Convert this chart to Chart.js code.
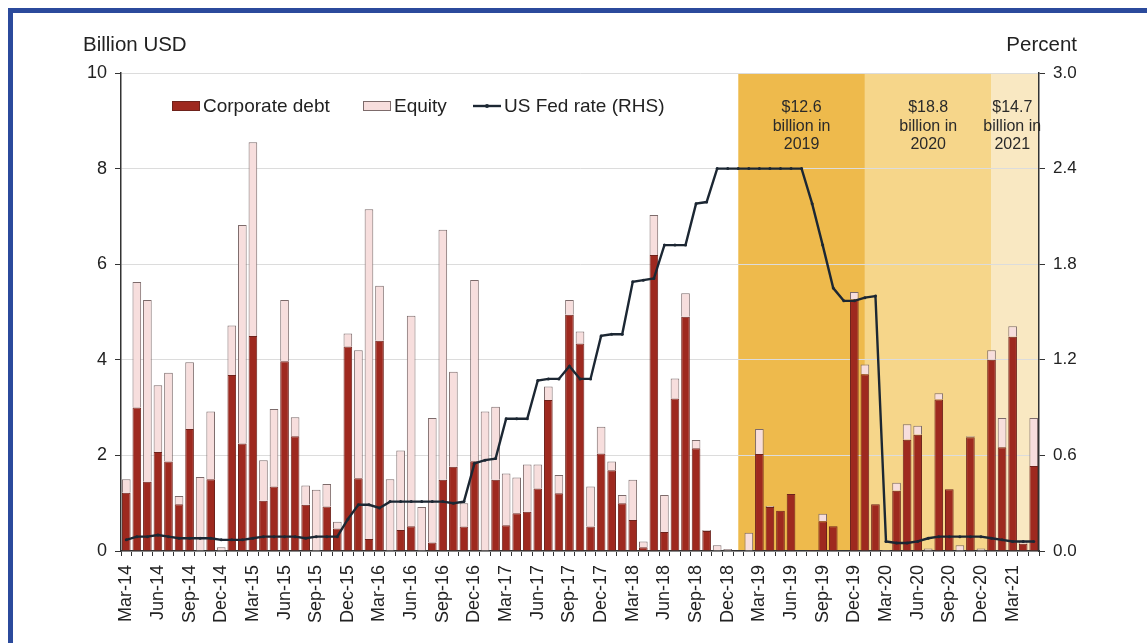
<!DOCTYPE html>
<html>
<head>
<meta charset="utf-8">
<script src="https://cdn.jsdelivr.net/npm/chart.js@4.4.1/dist/chart.umd.min.js"></script>
<style>
  html, body { margin: 0; padding: 0; background: #ffffff; overflow: hidden; }
  #wrap { position: relative; width: 1147px; height: 643px; }
  #frame {
    position: absolute; left: 8px; top: 8px; width: 1160px; height: 660px;
    border-top: 5px solid #2b4a9c; border-left: 5px solid #2b4a9c;
    pointer-events: none; box-sizing: border-box;
  }
  canvas { position: absolute; left: 0; top: 0; }
</style>
</head>
<body>
<div id="wrap">
  <canvas id="chart" width="1147" height="643"></canvas>
  <div id="frame"></div>
</div>
<script>
// Monthly categories, Mar-2014 .. May-2021
const months = [
  'Mar-14','Apr-14','May-14','Jun-14','Jul-14','Aug-14','Sep-14','Oct-14','Nov-14','Dec-14',
  'Jan-15','Feb-15','Mar-15','Apr-15','May-15','Jun-15','Jul-15','Aug-15','Sep-15','Oct-15','Nov-15','Dec-15',
  'Jan-16','Feb-16','Mar-16','Apr-16','May-16','Jun-16','Jul-16','Aug-16','Sep-16','Oct-16','Nov-16','Dec-16',
  'Jan-17','Feb-17','Mar-17','Apr-17','May-17','Jun-17','Jul-17','Aug-17','Sep-17','Oct-17','Nov-17','Dec-17',
  'Jan-18','Feb-18','Mar-18','Apr-18','May-18','Jun-18','Jul-18','Aug-18','Sep-18','Oct-18','Nov-18','Dec-18',
  'Jan-19','Feb-19','Mar-19','Apr-19','May-19','Jun-19','Jul-19','Aug-19','Sep-19','Oct-19','Nov-19','Dec-19',
  'Jan-20','Feb-20','Mar-20','Apr-20','May-20','Jun-20','Jul-20','Aug-20','Sep-20','Oct-20','Nov-20','Dec-20',
  'Jan-21','Feb-21','Mar-21','Apr-21','May-21'
];

// Labels shown on the category axis (quarterly)
const tickLabels = [
  'Mar-14','Jun-14','Sep-14','Dec-14','Mar-15','Jun-15','Sep-15','Dec-15',
  'Mar-16','Jun-16','Sep-16','Dec-16','Mar-17','Jun-17','Sep-17','Dec-17',
  'Mar-18','Jun-18','Sep-18','Dec-18','Mar-19','Jun-19','Sep-19','Dec-19',
  'Mar-20','Jun-20','Sep-20','Dec-20','Mar-21'
];

// Corporate debt issuance, billion USD
const corporateDebt = [
  1.22, 3.00, 1.45, 2.07, 1.87, 0.98, 2.55, 0.00, 1.50, 0.00,
  3.68, 2.25, 4.50, 1.05, 1.35, 3.97, 2.40, 0.97, 0.00, 0.93, 0.47, 4.28,
  1.52, 0.25, 4.40, 0.00, 0.44, 0.52, 0.00, 0.18, 1.49, 1.76, 0.51, 1.88,
  0.00, 1.49, 0.54, 0.79, 0.82, 1.31, 3.16, 1.21, 4.94, 4.34, 0.51, 2.04,
  1.69, 1.00, 0.65, 0.08, 6.19, 0.40, 3.19, 4.90, 2.15, 0.42, 0.00, 0.00,
  0.00, 0.00, 2.03, 0.92, 0.84, 1.19, 0.00, 0.02, 0.62, 0.52, 0.00, 5.26,
  3.70, 0.98, 0.00, 1.26, 2.33, 2.43, 0.00, 3.17, 1.29, 0.00, 2.38, 0.00,
  4.00, 2.17, 4.48, 0.15, 1.78
];

// Equity issuance, billion USD
const equity = [
  0.28, 2.63, 3.80, 1.40, 1.86, 0.17, 1.40, 1.55, 1.42, 0.08,
  1.04, 4.57, 4.05, 0.85, 1.62, 1.28, 0.40, 0.40, 1.28, 0.47, 0.14, 0.27,
  2.68, 6.90, 1.15, 1.50, 1.66, 4.40, 0.92, 2.60, 5.23, 1.99, 0.49, 3.79,
  2.92, 1.53, 1.08, 0.75, 0.99, 0.50, 0.28, 0.38, 0.31, 0.25, 0.84, 0.56,
  0.18, 0.17, 0.84, 0.12, 0.84, 0.77, 0.42, 0.49, 0.17, 0.02, 0.12, 0.04,
  0.00, 0.38, 0.52, 0.02, 0.00, 0.00, 0.00, 0.00, 0.16, 0.00, 0.00, 0.16,
  0.20, 0.00, 0.02, 0.17, 0.32, 0.19, 0.05, 0.13, 0.00, 0.12, 0.02, 0.05,
  0.20, 0.61, 0.22, 0.05, 1.00
];

// US Fed rate, percent (right-hand axis)
const fedRate = [
  0.07, 0.09, 0.09, 0.10, 0.09, 0.08, 0.08, 0.08, 0.08, 0.07,
  0.07, 0.07, 0.08, 0.09, 0.09, 0.09, 0.09, 0.08, 0.09, 0.09, 0.09, 0.20,
  0.29, 0.29, 0.27, 0.31, 0.31, 0.31, 0.31, 0.31, 0.31, 0.30, 0.31, 0.55,
  0.57, 0.58, 0.83, 0.83, 0.83, 1.07, 1.08, 1.08, 1.16, 1.08, 1.08, 1.35,
  1.36, 1.36, 1.69, 1.70, 1.71, 1.92, 1.92, 1.92, 2.18, 2.19, 2.40, 2.40,
  2.40, 2.40, 2.40, 2.40, 2.40, 2.40, 2.40, 2.18, 1.92, 1.65, 1.57, 1.57,
  1.59, 1.60, 0.06, 0.05, 0.05, 0.06, 0.08, 0.09, 0.09, 0.09, 0.09, 0.09,
  0.08, 0.07, 0.06, 0.06, 0.06
];

// Shaded calendar years with their annual totals
const bandStarts = ['Jan-19', 'Jan-20', 'Jan-21'];
const bandEnds   = ['Jan-20', 'Jan-21', null];
const bandNotes  = [
  ['$12.6', 'billion in', '2019'],
  ['$18.8', 'billion in', '2020'],
  ['$14.7', 'billion in', '2021']
];
const bandFills = ['#eeba4c', '#f6d68a', '#f9e8c2'];

const FONT = "'Liberation Sans', Arial, Helvetica, sans-serif";
const INK = '#222222';
const DEBT_FILL = '#9e291f', DEBT_EDGE = '#6e221b';
const EQ_FILL = '#f7dedd', EQ_EDGE = '#7d6b6b';
const LINE_COL = '#1c2733';

Chart.defaults.font.family = FONT;
Chart.defaults.color = INK;

// Year bands behind the grid, and their annotations on top
const yearBands = {
  id: 'yearBands',
  beforeDraw(chart) {
    const { ctx, chartArea: a, scales: { x } } = chart;
    ctx.save();
    bandStarts.forEach((s, i) => {
      const x0 = x.getPixelForValue(months.indexOf(s));
      const x1 = bandEnds[i] ? x.getPixelForValue(months.indexOf(bandEnds[i])) : a.right;
      ctx.fillStyle = bandFills[i];
      ctx.fillRect(x0, a.top, x1 - x0, a.bottom - a.top);
    });
    ctx.restore();
  },
  afterDraw(chart) {
    const { ctx, chartArea: a, scales: { x } } = chart;
    ctx.save();
    ctx.font = '16px ' + FONT;
    ctx.fillStyle = '#2a2a2a';
    ctx.textAlign = 'center';
    ctx.textBaseline = 'middle';
    bandStarts.forEach((s, i) => {
      const x0 = x.getPixelForValue(months.indexOf(s));
      const x1 = bandEnds[i] ? x.getPixelForValue(months.indexOf(bandEnds[i])) : a.right;
      const cx = (x0 + x1) / 2 - (bandEnds[i] ? 0 : 3);
      bandNotes[i].forEach((t, k) => ctx.fillText(t, cx, a.top + 35 + k * 18.5));
    });
    ctx.restore();
  }
};

// Axis unit captions and the in-plot legend
const captions = {
  id: 'captions',
  afterDraw(chart) {
    const { ctx, chartArea: a } = chart;
    ctx.save();
    ctx.fillStyle = INK;
    ctx.textBaseline = 'alphabetic';
    ctx.font = '20.5px ' + FONT;
    ctx.textAlign = 'left';
    ctx.fillText('Billion USD', 83, 51);
    ctx.textAlign = 'right';
    ctx.fillText('Percent', 1077, 51);

    // legend, built from the datasets
    const ds = chart.data.datasets;
    const y = a.top + 33;
    ctx.font = '19px ' + FONT;
    ctx.textAlign = 'left';
    ctx.textBaseline = 'middle';
    const starts = [172, 363, 473];
    ds.forEach((d, i) => {
      const sx = starts[i];
      if (d.type === 'line') {
        ctx.strokeStyle = d.borderColor;
        ctx.lineWidth = 2.4;
        ctx.beginPath(); ctx.moveTo(sx, y); ctx.lineTo(sx + 28, y); ctx.stroke();
        ctx.fillStyle = d.borderColor;
        ctx.beginPath(); ctx.arc(sx + 14, y, 2, 0, Math.PI * 2); ctx.fill();
      } else {
        ctx.fillStyle = d.backgroundColor;
        ctx.fillRect(sx, y - 5, 28, 10);
        ctx.strokeStyle = d.borderColor;
        ctx.lineWidth = 1;
        ctx.strokeRect(sx + 0.5, y - 4.5, 27, 9);
      }
      ctx.fillStyle = INK;
      ctx.fillText(d.label, sx + 31, y + 1);
    });
    ctx.restore();
  }
};

new Chart(document.getElementById('chart'), {
  data: {
    labels: months,
    datasets: [
      {
        type: 'bar', label: 'Corporate debt', data: corporateDebt,
        backgroundColor: DEBT_FILL, borderColor: DEBT_EDGE, borderWidth: 1,
        yAxisID: 'y', stack: 'issuance', order: 2,
        categoryPercentage: 1.0, barPercentage: 0.82
      },
      {
        type: 'bar', label: 'Equity', data: equity,
        backgroundColor: EQ_FILL, borderColor: EQ_EDGE, borderWidth: 1,
        yAxisID: 'y', stack: 'issuance', order: 2,
        categoryPercentage: 1.0, barPercentage: 0.82
      },
      {
        type: 'line', label: 'US Fed rate (RHS)', data: fedRate,
        borderColor: LINE_COL, backgroundColor: LINE_COL, borderWidth: 2.4,
        pointRadius: 1.5, pointBackgroundColor: LINE_COL, pointBorderWidth: 0,
        tension: 0, yAxisID: 'y1', order: 0
      }
    ]
  },
  options: {
    responsive: false,
    animation: false,
    devicePixelRatio: 1,
    layout: { padding: { top: 73, left: 0, right: 0, bottom: 0 } },
    plugins: { legend: { display: false }, tooltip: { enabled: false } },
    scales: {
      x: {
        stacked: true,
        offset: true,
        afterFit(s) { s.height = 92; },
        grid: { drawOnChartArea: false, drawTicks: true, tickLength: 5, tickColor: '#333', offset: true },
        border: { color: '#333', width: 1.5 },
        ticks: {
          autoSkip: false, minRotation: 90, maxRotation: 90, padding: 9,
          font: { size: 18 }, color: INK,
          callback(v) {
            const lab = this.getLabelForValue(v);
            return tickLabels.includes(lab) ? lab : '';
          }
        }
      },
      y: {
        position: 'left', stacked: true, min: 0, max: 10,
        afterFit(s) { s.width = 121; },
        grid: { color: '#dcdcdc', lineWidth: 1, tickLength: 6, tickColor: '#333' },
        border: { color: '#333', width: 1.5 },
        ticks: { stepSize: 2, padding: 8, font: { size: 18 }, color: INK }
      },
      y1: {
        position: 'right', min: 0, max: 3.0,
        afterFit(s) { s.width = 108; },
        grid: { drawOnChartArea: false, tickLength: 6, tickColor: '#333' },
        border: { color: '#333', width: 1.5 },
        ticks: { stepSize: 0.6, padding: 8, font: { size: 17 }, color: INK,
                 callback(v) { return Number(v).toFixed(1); } }
      }
    }
  },
  plugins: [yearBands, captions]
});
</script>
</body>
</html>
